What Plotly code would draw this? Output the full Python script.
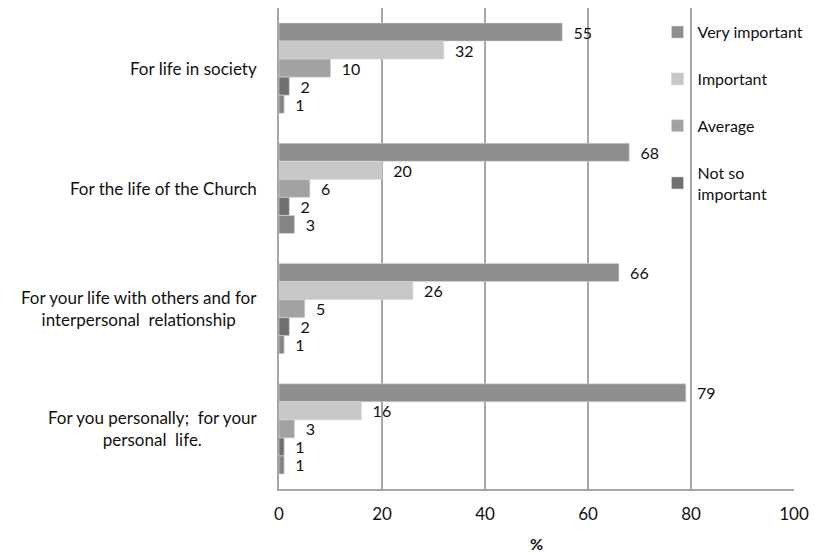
import plotly.graph_objects as go

categories = [
    "For life in society",
    "For the life of the Church",
    "For your life with others and for<br>interpersonal  relationship",
    "For you personally;  for your<br>personal  life.",
]
series_names = ["Very important", "Important", "Average", "Not so<br>important", "Not important"]
very_important = [55, 68, 66, 79]
important = [32, 20, 26, 16]
average = [10, 6, 5, 3]
not_so_important = [2, 2, 2, 1]
not_important = [1, 3, 1, 1]

series_values = [very_important, important, average, not_so_important, not_important]
colors = ["#8e8e8e", "#c6c7c9", "#a2a2a2", "#707070", "#858585"]
show_in_legend = [True, True, True, True, False]

FONT = "Lato, 'Open Sans', sans-serif"
TXT = "#111111"

fig = go.Figure()
for i, (name, vals) in enumerate(zip(series_names, series_values)):
    fig.add_trace(go.Bar(
        y=categories,
        x=vals,
        name=name,
        orientation="h",
        marker=dict(color=colors[i], line=dict(color="#d6d6d6", width=0.6)),
        text=vals,
        texttemplate="  %{x}",
        textposition="outside",
        constraintext="none",
        textfont=dict(family=FONT, size=16, color=TXT),
        cliponaxis=False,
        showlegend=show_in_legend[i],
        legendgroup=f"g{i}",
    ))

# category labels, centred line by line and right-anchored next to the axis
for cat in categories:
    fig.add_annotation(
        x=0, xref="paper", xanchor="right", xshift=-20,
        y=cat, yref="y",
        text=cat, showarrow=False, align="center",
        font=dict(family=FONT, size=17, color=TXT),
    )

fig.update_layout(
    width=815, height=554,
    margin=dict(l=279, r=21, t=8, b=65, autoexpand=False),
    paper_bgcolor="white", plot_bgcolor="white",
    barmode="group",
    bargap=0.25, bargroupgap=0,
    font=dict(family=FONT, size=16, color=TXT),
    legend=dict(
        x=0.735, y=0.985, xanchor="left", yanchor="top",
        bgcolor="rgba(0,0,0,0)",
        font=dict(family=FONT, size=16, color=TXT),
        tracegroupgap=23,
        itemwidth=30,
    ),
    xaxis=dict(
        range=[0, 100], dtick=20, tick0=0,
        showgrid=True, gridcolor="#a6a6a6", gridwidth=1.5,
        showline=True, linecolor="#a6a6a6", linewidth=1.5,
        zeroline=False,
        ticks="", ticklabelstandoff=9,
        tickfont=dict(family=FONT, size=17, color=TXT),
        title=dict(text="<b>%</b>", font=dict(family=FONT, size=16, color=TXT), standoff=16),
        fixedrange=True,
        automargin=False,
    ),
    yaxis=dict(
        autorange="reversed",
        showticklabels=False,
        showgrid=False, zeroline=False,
        showline=True, linecolor="#a6a6a6", linewidth=1.5,
        fixedrange=True,
        automargin=False,
    ),
)

fig.write_html("out.html")
